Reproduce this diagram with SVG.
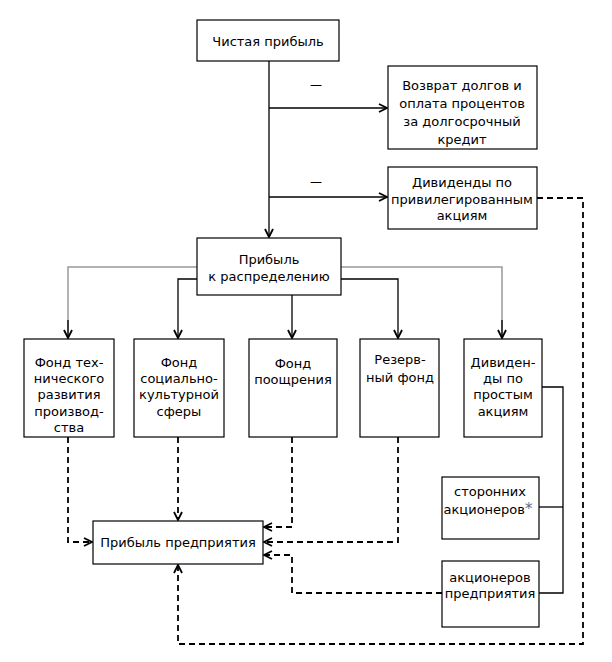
<svg xmlns="http://www.w3.org/2000/svg" width="612" height="662" viewBox="0 0 612 662">
<defs>
<marker id="ah" viewBox="0 0 10 10" refX="9" refY="5" markerWidth="10" markerHeight="10" markerUnits="userSpaceOnUse" orient="auto">
<polyline points="1,1 9,5 1,9" fill="none" stroke="#000" stroke-width="1.8"/>
</marker>
</defs>
<style>
rect{fill:#fff;stroke:#000;stroke-width:1.2}
text{font-family:"DejaVu Sans","Liberation Sans",sans-serif;font-size:13px;fill:#000;text-anchor:middle}
.s{fill:none;stroke:#000;stroke-width:1.3}
.g{fill:none;stroke:#999;stroke-width:1.5}
.d{fill:none;stroke:#000;stroke-width:1.8;stroke-dasharray:6,4}
.e{marker-end:url(#ah)}
.m{font-size:12px}
</style>
<g id="connectors">
<path class="s e" d="M269,61 V237"/>
<path class="s e" d="M269,108 H387"/>
<path class="s e" d="M269,197 H387"/>
<path class="g" d="M197,267 H68 V336"/>
<path class="s e" d="M68,320 V338"/>
<path class="s e" d="M197,279 H178 V338"/>
<path class="s e" d="M292,295 V338"/>
<path class="s e" d="M341,279 H398 V338"/>
<path class="g" d="M341,267 H502 V336"/>
<path class="s e" d="M502,320 V338"/>
<path class="s" d="M542,387 H563 V593 H539"/>
<path class="s" d="M563,507 H539"/>
<path class="d e" d="M68,437 V542 H92"/>
<path class="d e" d="M178,437 V520"/>
<path class="d e" d="M292,437 V527 H264"/>
<path class="d e" d="M398,437 V542 H264"/>
<path class="d e" d="M442,593 H292 V555 H264"/>
<path class="d e" d="M537,198 H583 V644 H178 V565"/>
<text class="m" x="316" y="89">—</text>
<text class="m" x="316" y="186">—</text>
</g>
<g id="chistaya"><rect x="197" y="20" width="142" height="41"/><text x="268" y="46">Чистая прибыль</text></g>
<g id="vozvrat"><rect x="388" y="66" width="149" height="83"/>
<text x="462" y="90">Возврат долгов и</text><text x="462" y="108">оплата процентов</text><text x="462" y="126">за долгосрочный</text><text x="462" y="144">кредит</text></g>
<g id="privileg"><rect x="388" y="167" width="149" height="62"/>
<text x="462" y="187">Дивиденды по</text><text x="462" y="204">привилегированным</text><text x="462" y="220">акциям</text></g>
<g id="raspred"><rect x="197" y="238" width="144" height="57"/>
<text x="269" y="264">Прибыль</text><text x="269" y="281">к распределению</text></g>
<g id="fond1"><rect x="24" y="339" width="90" height="98"/>
<text x="69" y="367">Фонд тех-</text><text x="69" y="383">нического</text><text x="69" y="399">развития</text><text x="69" y="416">производ-</text><text x="69" y="432">ства</text></g>
<g id="fond2"><rect x="134" y="339" width="90" height="98"/>
<text x="179" y="367">Фонд</text><text x="179" y="383">социально-</text><text x="179" y="399">культурной</text><text x="179" y="416">сферы</text></g>
<g id="fond3"><rect x="249" y="339" width="88" height="98"/>
<text x="293" y="368">Фонд</text><text x="293" y="384">поощрения</text></g>
<g id="fond4"><rect x="360" y="339" width="79" height="98"/>
<text x="400" y="364">Резерв-</text><text x="400" y="382">ный фонд</text></g>
<g id="fond5"><rect x="464" y="339" width="78" height="98"/>
<text x="503" y="367">Дивиден-</text><text x="503" y="383">ды по</text><text x="503" y="399">простым</text><text x="503" y="416">акциям</text></g>
<g id="storon"><rect x="442" y="477" width="97" height="62"/>
<text x="490" y="496">сторонних</text><text x="488" y="514">акционеров<tspan fill="#4f7390" font-size="15">*</tspan></text></g>
<g id="akcioner"><rect x="442" y="561" width="97" height="66"/>
<text x="490" y="582">акционеров</text><text x="490" y="598">предприятия</text></g>
<g id="predpr"><rect x="93" y="521" width="170" height="43"/><text x="178" y="547">Прибыль предприятия</text></g>
</svg>
